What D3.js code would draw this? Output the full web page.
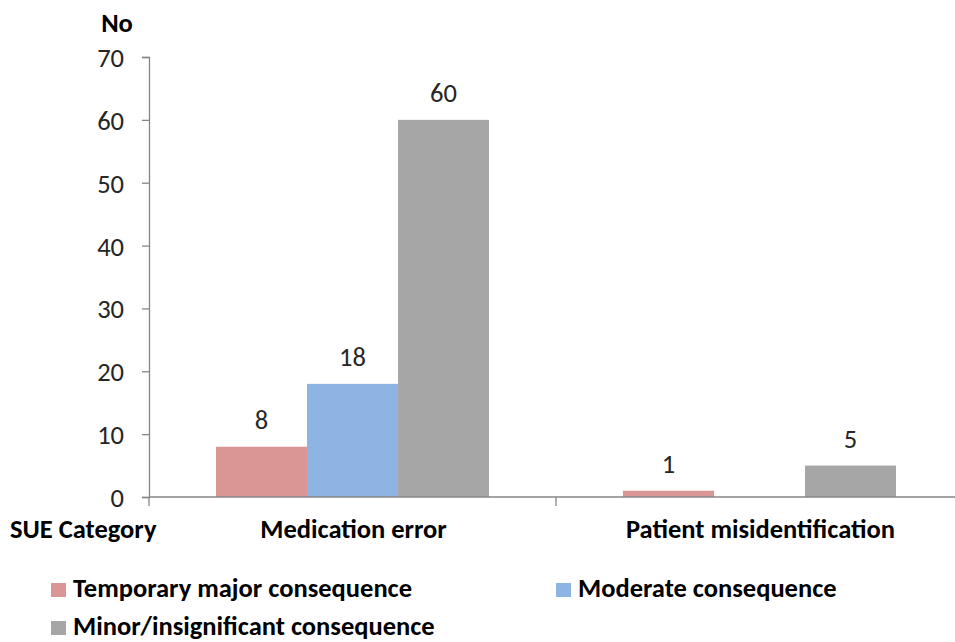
<!DOCTYPE html>
<html>
<head>
<meta charset="utf-8">
<script src="https://cdn.jsdelivr.net/npm/d3@7/dist/d3.min.js"></script>
<style>
  html, body { margin: 0; padding: 0; background: #fff; }
  svg { display: block; font-family: Carlito, Calibri, Lato, "Open Sans", sans-serif; }
</style>
</head>
<body>
<svg id="chart" width="955" height="642"></svg>
<script>
// SUE counts by category and consequence level
const categories = ["Medication error", "Patient misidentification"];
const seriesNames = ["Temporary major consequence", "Moderate consequence", "Minor/insignificant consequence"];
const temporaryMajor = [8, 1];
const moderate = [18, null];
const minorInsignificant = [60, 5];
const seriesValues = [temporaryMajor, moderate, minorInsignificant];
const seriesColors = ["#D99694", "#8EB4E3", "#A6A6A6"];
const yTicks = [0, 10, 20, 30, 40, 50, 60, 70];

const svg = d3.select("#chart");
const axisColor = "#868686";
const numSize = 26.5, boldSize = 26.5;

const plotLeft = 149, plotRight = 963, plotTop = 57, plotBottom = 497;

const x0 = d3.scaleBand().domain(categories).range([plotLeft, plotRight]).padding(0);
const x1 = d3.scaleBand().domain(seriesNames).range([0, x0.bandwidth()])
  .paddingInner(0).paddingOuter(0.736);
const y = d3.scaleLinear().domain([0, 70]).range([plotBottom, plotTop]);

// y axis
const yAxis = svg.append("g")
  .attr("transform", `translate(${plotLeft},0)`)
  .call(d3.axisLeft(y).tickValues(yTicks).tickSize(7).tickPadding(18).tickFormat(d3.format("d")));
yAxis.select(".domain").attr("stroke", axisColor).attr("stroke-width", 1.3);
yAxis.selectAll(".tick line").attr("stroke", axisColor).attr("stroke-width", 1.3);
yAxis.selectAll(".tick text")
  .attr("font-size", numSize).attr("fill", "#262626")
  .attr("font-family", "Carlito, Calibri, Lato, sans-serif")
  .attr("dy", "0.36em");

// bars
const groups = svg.append("g").selectAll("g")
  .data(categories)
  .join("g")
  .attr("transform", d => `translate(${x0(d)},0)`);

const barData = (c, ci) => seriesNames.map((s, si) => ({ s, si, v: seriesValues[si][ci] }))
  .filter(d => d.v != null);

groups.each(function (c, ci) {
  const g = d3.select(this);
  const data = barData(c, ci);
  g.selectAll("rect").data(data).join("rect")
    .attr("x", d => x1(d.s))
    .attr("width", x1.bandwidth())
    .attr("y", d => y(d.v))
    .attr("height", d => y(0) - y(d.v))
    .attr("fill", d => seriesColors[d.si]);
  g.selectAll("text.value").data(data).join("text")
    .attr("class", "value")
    .attr("x", d => x1(d.s) + x1.bandwidth() / 2)
    .attr("y", d => y(d.v) - 18)
    .attr("text-anchor", "middle")
    .attr("font-size", numSize)
    .attr("fill", "#262626")
    .text(d => d.v);
});

// x axis line and ticks
const xAxisG = svg.append("g");
xAxisG.append("line")
  .attr("x1", plotLeft).attr("x2", plotRight)
  .attr("y1", y(0)).attr("y2", y(0))
  .attr("stroke", axisColor).attr("stroke-width", 1.3);
const boundaries = categories.map(c => x0(c)).concat([x0(categories[categories.length - 1]) + x0.bandwidth()]);
xAxisG.selectAll("line.tick").data(boundaries).join("line")
  .attr("class", "tick")
  .attr("x1", d => d).attr("x2", d => d)
  .attr("y1", y(0)).attr("y2", y(0) + 9)
  .attr("stroke", axisColor).attr("stroke-width", 1.3);

// category labels
svg.append("g").selectAll("text").data(categories).join("text")
  .attr("x", d => x0(d) + x0.bandwidth() / 2 + 1)
  .attr("y", 538)
  .attr("text-anchor", "middle")
  .attr("font-size", boldSize).attr("font-weight", "bold").attr("fill", "#000")
  .text(d => d);

// axis titles
svg.append("text")
  .attr("x", 10).attr("y", 538)
  .attr("font-size", boldSize).attr("font-weight", "bold").attr("fill", "#000")
  .text("SUE Category");
svg.append("text")
  .attr("x", 117).attr("y", 32)
  .attr("text-anchor", "middle")
  .attr("font-size", boldSize).attr("font-weight", "bold").attr("fill", "#000")
  .text("No");

// legend
const legendPos = [[51, 597], [556, 597], [51, 635]];
const legend = svg.append("g").selectAll("g").data(seriesNames).join("g")
  .attr("transform", (d, i) => `translate(${legendPos[i][0]},${legendPos[i][1]})`);
legend.append("rect")
  .attr("x", 0).attr("y", -14).attr("width", 15).attr("height", 14)
  .attr("fill", (d, i) => seriesColors[i]);
legend.append("text")
  .attr("x", 22).attr("y", 0)
  .attr("font-size", boldSize).attr("font-weight", "bold").attr("fill", "#000")
  .text(d => d);
</script>
</body>
</html>
